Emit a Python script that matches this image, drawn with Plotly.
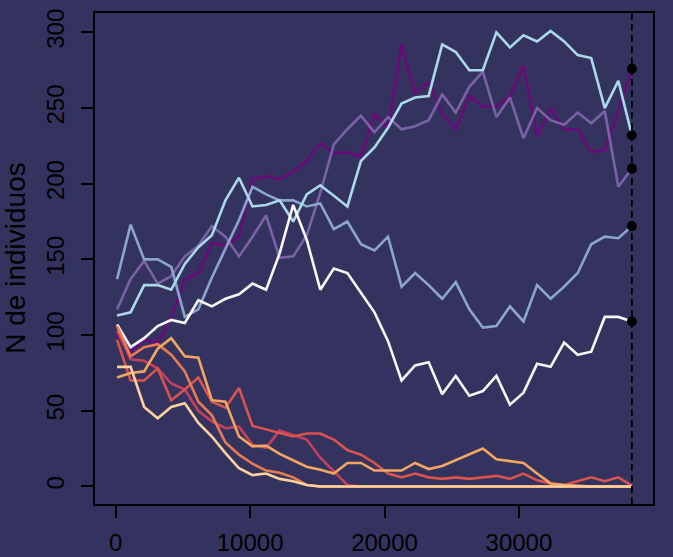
import plotly.graph_objects as go

# generation (time) axis: 39 sampling points
gens = [100 + 1008 * k for k in range(39)]

pop_magenta = [100, 89, 97, 95, 112, 137, 141, 161, 159, 165, 203, 205, 203, 208, 215, 227, 220, 221, 218, 246,
               237, 292, 260, 267, 246, 236, 258, 251, 251, 258, 278, 231, 250, 236, 236, 221, 222, 248, 276]
pop_purple = [117, 137, 149, 134, 139, 152, 159, 172, 165, 152, 165, 179, 151, 152, 166, 194, 226, 236, 245, 234,
              244, 236, 238, 242, 259, 247, 264, 274, 244, 257, 230, 250, 242, 239, 247, 240, 248, 198, 210]
pop_steel = [137, 173, 150, 150, 145, 112, 117, 138, 157, 176, 198, 193, 189, 189, 185, 187, 170, 175, 160, 156,
             165, 132, 141, 133, 124, 135, 117, 105, 106, 119, 109, 133, 124, 132, 141, 160, 165, 164, 172]
pop_cyan = [113, 115, 133, 133, 130, 147, 158, 166, 189, 204, 185, 186, 189, 175, 193, 199, 192, 185, 215, 224,
            237, 253, 257, 258, 292, 287, 275, 275, 300, 290, 298, 294, 301, 294, 285, 283, 250, 268, 232]
pop_white = [107, 92, 98, 106, 110, 108, 123, 119, 124, 127, 134, 130, 154, 186, 163, 130, 144, 141, 128, 115,
             96, 70, 80, 82, 61, 73, 60, 63, 73, 54, 62, 81, 79, 95, 87, 89, 112, 112, 109]
pop_crimson = [103, 84, 83, 78, 68, 64, 50, 43, 38.5, 39.5, 27.5, 25.5, 37, 34, 31, 19, 10, 1, 0, 0,
               0, 0, 0, 0, 0, 0, 0, 0, 0, 0, 0, 0, 0, 0, 0, 0, 0, 0, 0]
pop_coral = [97, 70, 70, 78, 57, 64, 72, 56, 52, 65, 40, 37.5, 35, 33, 35, 35, 31, 24, 21, 15.5,
             8.5, 6, 8.5, 6, 5, 6, 5, 6, 7, 5, 8.5, 4, 2, 1, 3.5, 6, 3.5, 6, 0.5]
pop_orange = [106, 86, 92, 94, 87, 76, 56, 47, 29, 21, 15, 10.5, 9, 6, 1, 0, 0, 0, 0, 0,
              0, 0, 0, 0, 0, 0, 0, 0, 0, 0, 0, 0, 0, 0, 0, 0, 0, 0, 0]
pop_lorange = [72, 75, 76, 91, 98, 86, 85, 57, 56, 33, 26.5, 27, 21.5, 17, 13, 11, 8.5, 15.5, 15.5, 10.5,
               10.5, 10.5, 15.5, 11.5, 13.5, 17.5, 21, 25, 18, 16.5, 15.5, 8.5, 2, 1, 0.5, 0, 0, 0, 0]
pop_peach = [79, 79, 52.5, 45, 52.5, 55, 42, 33, 22, 12, 7.5, 8.5, 5, 3.5, 1, 0, 0, 0, 0, 0,
             0, 0, 0, 0, 0, 0, 0, 0, 0, 0, 0, 0, 0, 0, 0, 0, 0, 0, 0]

series = [
    (pop_magenta, "#6a0a7a"),
    (pop_purple, "#7a62a6"),
    (pop_steel, "#8ba5cd"),
    (pop_cyan, "#abd9e9"),
    (pop_white, "#f7f7f7"),
    (pop_crimson, "#c4405c"),
    (pop_coral, "#d9534f"),
    (pop_orange, "#ea7b50"),
    (pop_lorange, "#f3a562"),
    (pop_peach, "#fbd29d"),
]

y_ticks = [0, 50, 100, 150, 200, 250, 300]
x_ticks = [0, 10000, 20000, 30000]

bg = "#34335f"
fig = go.Figure()
for vals, col in series:
    fig.add_trace(go.Scatter(x=gens, y=vals, mode="lines",
                             line=dict(color=col, width=2.6), showlegend=False,
                             hoverinfo="skip"))

# end points of surviving populations
end_vals = [s[0][-1] for s in series if s[0][-1] >= 1]
fig.add_trace(go.Scatter(x=[gens[-1]] * len(end_vals), y=end_vals, mode="markers",
                         marker=dict(color="black", size=10), showlegend=False,
                         hoverinfo="skip"))

fig.add_shape(type="line", xref="x", yref="paper", x0=gens[-1], x1=gens[-1], y0=0, y1=1,
              line=dict(color="black", width=1.8, dash="7px,4px"), layer="above")

font_family = "Liberation Sans, Arial, sans-serif"
fig.update_layout(
    width=673, height=557,
    margin=dict(l=95, r=20, t=13, b=53),
    paper_bgcolor=bg, plot_bgcolor=bg,
    font=dict(family=font_family, color="black", size=24),
    xaxis=dict(range=[-1541, 39975], tickvals=x_ticks, tickformat="d", automargin=False,
               showgrid=False, zeroline=False, showline=True, mirror=True,
               linecolor="black", linewidth=1.5, ticks="outside", ticklen=12,
               tickwidth=1.5, tickcolor="black", ticklabelstandoff=4,
               tickfont=dict(size=24, color="black")),
    yaxis=dict(range=[-11.6, 312.8], tickvals=y_ticks, tickangle=-90, automargin=False,
               showgrid=False, zeroline=False, showline=True, mirror=True,
               linecolor="black", linewidth=1.5, ticks="outside", ticklen=12,
               tickwidth=1.5, tickcolor="black", ticklabelstandoff=8,
               tickfont=dict(size=24, color="black")),
    annotations=[dict(text="N de individuos", textangle=-90, xref="paper", yref="paper",
                      x=-0.143, y=0.5, xanchor="center", yanchor="middle", showarrow=False,
                      font=dict(size=28, color="black", family=font_family))],
)

fig.write_html("out.html")
